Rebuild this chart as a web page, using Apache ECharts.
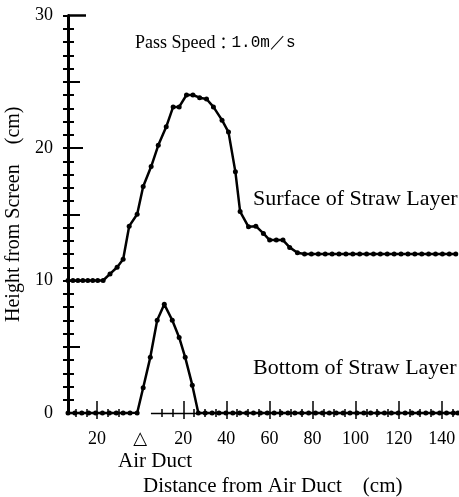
<!DOCTYPE html>
<html>
<head>
<meta charset="utf-8">
<script src="https://cdn.jsdelivr.net/npm/echarts@6/dist/echarts.min.js"></script>
<style>html,body{margin:0;padding:0;background:#fff}#c{width:459px;height:497px}</style>
</head>
<body>
<div id="c"></div>
<script>
// Surface of straw layer (distance cm, height cm)
const surfaceX = [-33.5,-31.2,-28.9,-26.6,-24.3,-22,-19.7,-17.2,-14,-10.7,-7.9,-5.1,-1.4,1.4,5.1,8.4,12.1,15.3,18.1,21.5,24.5,27.6,30.8,34,38,41,44.2,46.4,50.3,53.7,57.2,60.1,63.2,66.3,69.4,73,76.3,79.5,82.7,85.9,89.1,92.3,95.5,98.7,101.9,105.1,108.3,111.5,114.7,117.9,121.1,124.3,127.5,130.7,133.9,137.1,140.3,143.5,146.5];
const surfaceY = [10,10,10,10,10,10,10,10,10.5,11,11.6,14.1,15,17.1,18.6,20.2,21.6,23.1,23.1,24,24,23.8,23.7,23.1,22.1,21.2,18.2,15.2,14.05,14.1,13.55,13.05,13.05,13.05,12.5,12.1,12,12,12,12,12,12,12,12,12,12,12,12,12,12,12,12,12,12,12,12,12,12,12];
// Bottom of straw layer
const bottomX = [-33.5,-30.3,-27.1,-23.9,-20.7,-17.5,-14.3,-11.1,-7.9,-4.7,-1.4,1.4,4.7,7.9,11.2,14.9,18.1,20.9,24.2,27,30.2,33.4,36.6,39.8,43,46.2,49.4,52.6,55.8,59,62.2,65.4,68.6,71.8,75,78.2,81.4,84.6,87.8,91,94.2,97.4,100.6,103.8,107,110.2,113.4,116.6,119.8,123,126.2,129.4,132.6,135.8,139,142.2,145.4,147.5];
const bottomY = [0,0,0,0,0,0,0,0,0,0,0,1.9,4.2,7.0,8.2,7.0,5.7,4.2,2.1,0,0,0,0,0,0,0,0,0,0,0,0,0,0,0,0,0,0,0,0,0,0,0,0,0,0,0,0,0,0,0,0,0,0,0,0,0,0,0];
// Axes
const xLabelValues = [-20,0,20,40,60,80,100,120,140];
const xMajorTicks = [-20,20,40,60,80,100,120,140];
const xMinorTicks = [-30,-25,-15,-10,10,15,25,30,35,45,50,55,65,70,75,85,90,95,105,110,115,125,130,135,145];
const ductEdges = [-5,5];
const yLabelValues = [0,10,20,30];
const yMinorTicks = [1,2,3,4,6,7,8,9,11,12,13,14,16,17,18,19,21,22,23,24,26,27,28,29];
const yMidTicks = [5,15,25];
const yMajorTicks = [10,20];
const yTopTick = [30];

const SERIF = '"Liberation Serif","DejaVu Serif",serif';
const txt = size => ({fontFamily: SERIF, fontSize: size, fontWeight: 'normal', color: '#000'});
const pair = (xs, ys) => xs.map((x, i) => [x, ys[i]]);

const X_MIN = -33.5, X_MAX = 148;
function xAxisBase(extra) {
  return Object.assign({
    type: 'value', min: X_MIN, max: X_MAX, position: 'bottom', offset: 0,
    splitLine: {show: false}, axisLine: {show: false, onZero: false},
    axisLabel: {show: false}, axisTick: {show: false}
  }, extra);
}
function yAxisBase(extra) {
  return Object.assign({
    type: 'value', min: 0, max: 30, position: 'left', offset: 0,
    splitLine: {show: false}, axisLine: {show: false, onZero: false},
    axisLabel: {show: false}, axisTick: {show: false}
  }, extra);
}
const tick = (vals, inside, len, w) => ({show: true, customValues: vals, inside: inside, length: len, lineStyle: {color: '#000', width: w}});

const chart = echarts.init(document.getElementById('c'), null, {renderer: 'canvas'});
chart.setOption({
  animation: false,
  backgroundColor: '#fff',
  grid: {left: 68, right: 0, top: 15.5, bottom: 84, containLabel: false, outerBoundsMode: 'none'},
  title: [
    {text: '{a|Pass Speed}{b|：}{c|1.0m／s}', left: 135, top: 34, padding: 0,
     textStyle: {rich: {
       a: {fontFamily: SERIF, fontSize: 18, fontWeight: 'normal', color: '#000'},
       b: {fontFamily: '"Noto Sans CJK JP"', fontSize: 16, fontWeight: 'normal', color: '#000'},
       c: {fontFamily: '"Liberation Mono","DejaVu Sans Mono",monospace', fontSize: 16, fontWeight: 'normal', color: '#000'}
     }}},
    {text: 'Surface of Straw Layer', left: 253, top: 188, padding: 0, textStyle: txt(22)},
    {text: 'Bottom of Straw Layer', left: 253, top: 357, padding: 0, textStyle: txt(22)},
    {text: 'Air Duct', left: 118, top: 451, padding: 0, textStyle: txt(21)},
    {text: 'Distance from Air Duct　(cm)', left: 143, top: 476, padding: 0, textStyle: txt(21)}
  ],
  xAxis: [
    xAxisBase({
      axisLabel: {show: true, customValues: xLabelValues, margin: 17, fontFamily: SERIF, fontSize: 18, color: '#000',
        formatter: v => v === 0 ? '△' : String(Math.abs(v))},
      axisTick: tick(xMinorTicks, false, 4, 1.5)
    }),
    xAxisBase({axisTick: tick(xMinorTicks, true, 4, 1.5)}),
    xAxisBase({axisTick: tick(xMajorTicks, false, 6, 1.5)}),
    xAxisBase({axisTick: tick(xMajorTicks, true, 12, 1.5)})
  ],
  yAxis: [
    yAxisBase({
      name: 'Height from Screen　(cm)', nameLocation: 'middle', nameGap: 36, nameRotate: 90,
      nameTextStyle: {fontFamily: SERIF, fontSize: 20, color: '#000'},
      axisLine: {show: true, onZero: false, lineStyle: {color: '#000', width: 3}},
      axisLabel: {show: true, customValues: yLabelValues, margin: 15, fontFamily: SERIF, fontSize: 18, color: '#000'},
      axisTick: tick(yMinorTicks.concat(yMidTicks, yMajorTicks, yTopTick), false, 5, 2)
    }),
    yAxisBase({axisTick: tick(yMinorTicks, true, 6, 2)}),
    yAxisBase({axisTick: tick(yMidTicks, true, 12, 2)}),
    yAxisBase({axisTick: tick(yMajorTicks, true, 15, 2)}),
    yAxisBase({axisTick: tick(yTopTick, true, 18, 2.5)})
  ],
  series: [
    {
      type: 'line', name: 'Surface of Straw Layer', data: pair(surfaceX, surfaceY),
      symbol: 'circle', symbolSize: 5, showSymbol: true,
      lineStyle: {color: '#000', width: 2.5}, itemStyle: {color: '#000'}, z: 5
    },
    {
      type: 'line', name: 'Bottom of Straw Layer', data: pair(bottomX, bottomY),
      symbol: 'circle', symbolSize: 5, showSymbol: true,
      lineStyle: {color: '#000', width: 2.5}, itemStyle: {color: '#000'}, z: 5,
      markLine: {
        silent: true, symbol: 'none', label: {show: false},
        lineStyle: {color: '#000', width: 1.3, type: 'solid'},
        data: [
          [{coord: [X_MIN, 0]}, {coord: [ductEdges[0], 0]}],
          [{coord: [ductEdges[1], 0]}, {coord: [X_MAX, 0]}],
          [{coord: [ductEdges[0], -1.05]}, {coord: [ductEdges[0], 1.35]}],
          [{coord: [ductEdges[1], -0.9]}, {coord: [ductEdges[1], 0.85]}]
        ]
      }
    }
  ]
});
</script>
</body>
</html>
